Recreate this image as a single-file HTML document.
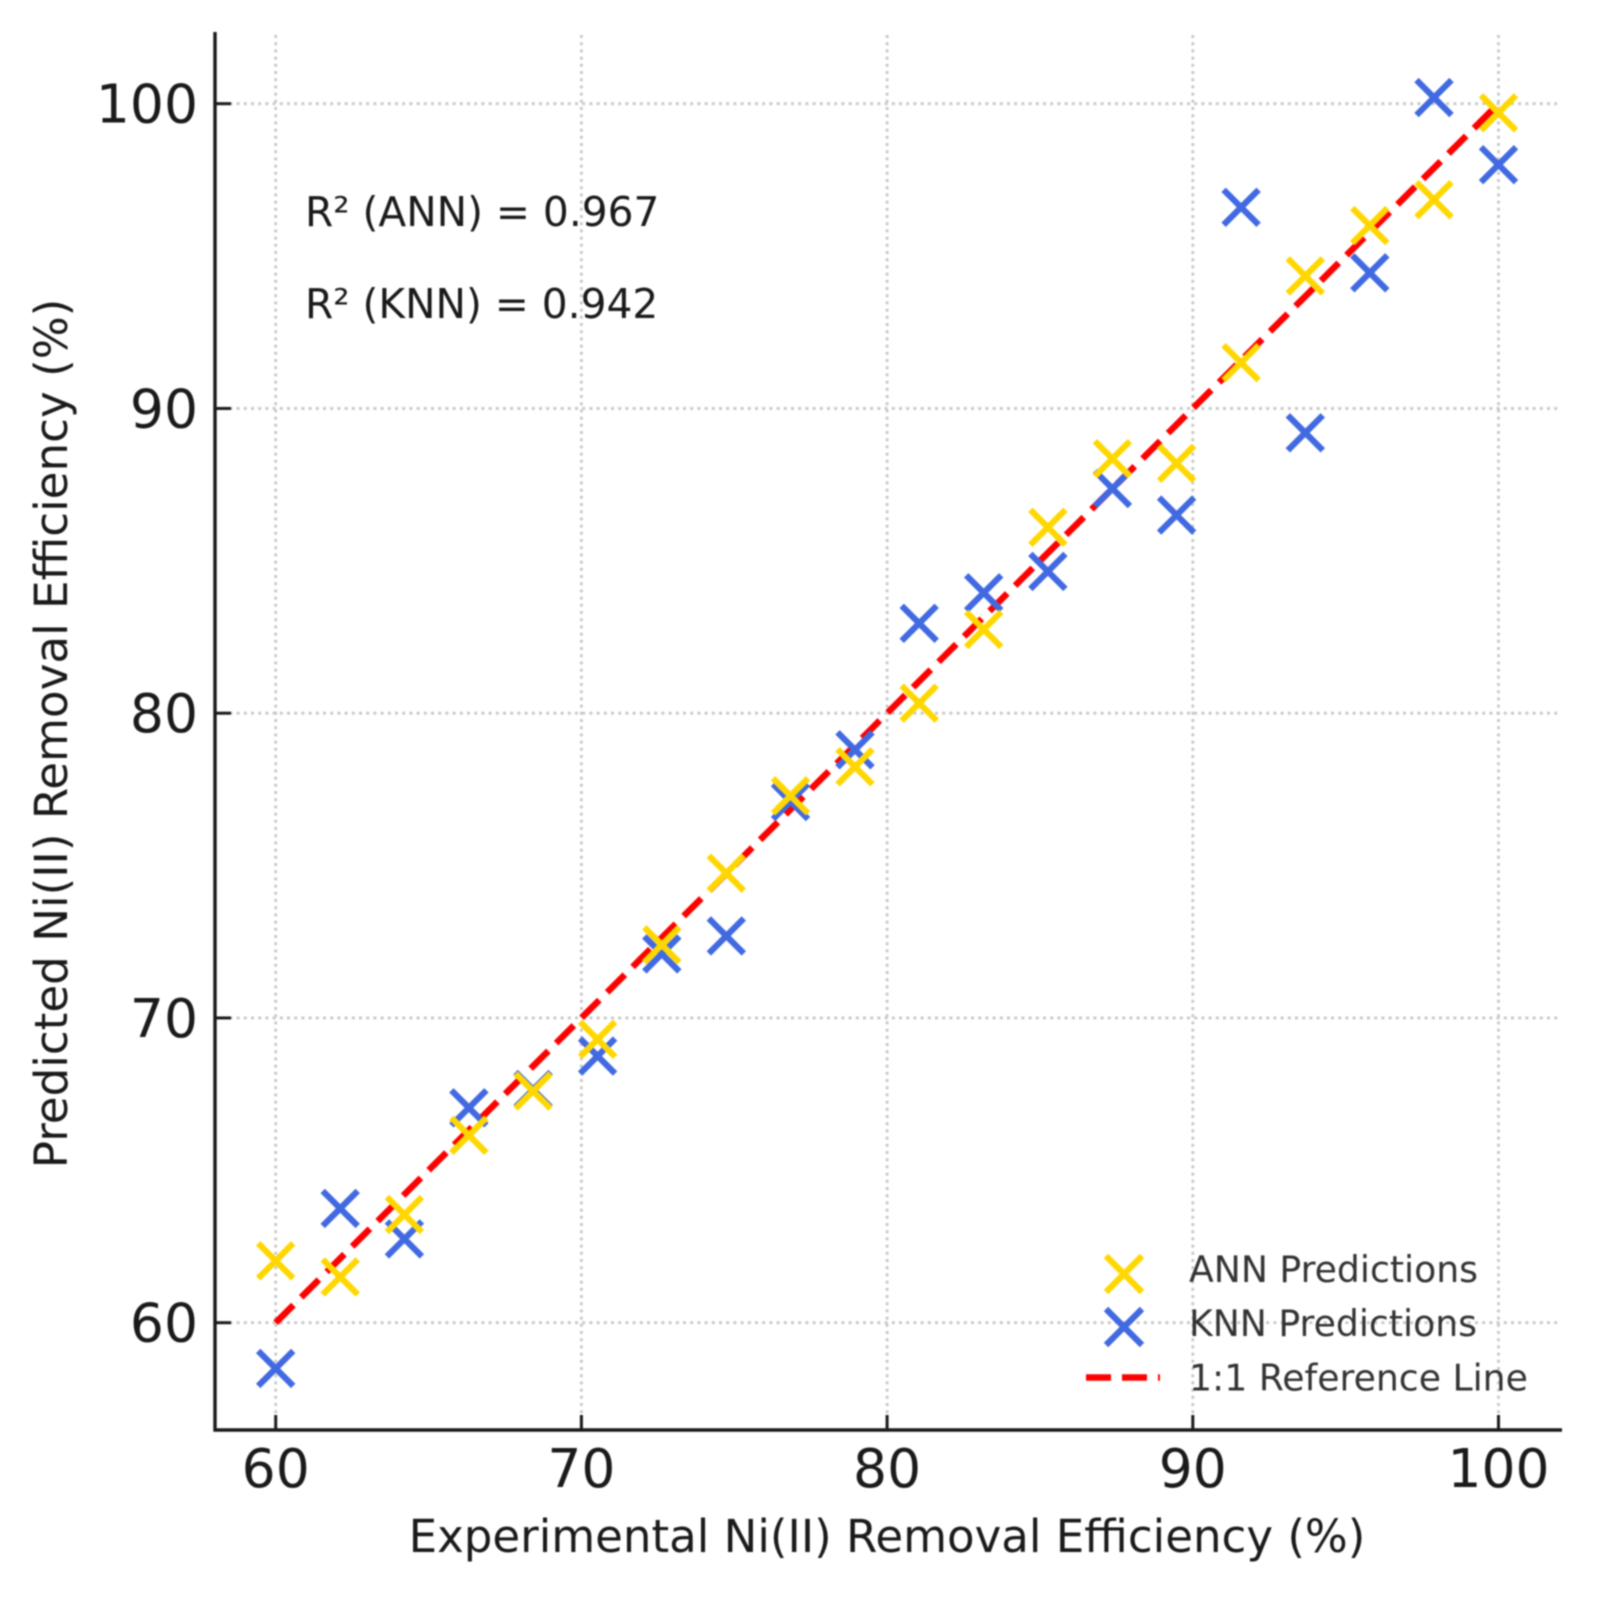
<!DOCTYPE html>
<html>
<head>
<meta charset="utf-8">
<title>Predicted vs Experimental Ni(II) Removal Efficiency</title>
<style>
html,body{margin:0;padding:0;background:#fff;}
svg{display:block;filter:blur(0.7px);}
text{font-family:"DejaVu Sans","Liberation Sans",sans-serif;fill:#1a1a1a;}
</style>
</head>
<body>
<svg id="chart" xmlns="http://www.w3.org/2000/svg" width="1600" height="1597" viewBox="0 0 1600 1597">
  <rect x="0" y="0" width="1600" height="1597" fill="#ffffff"/>
  <g id="grid"></g>
  <g id="refline"></g>
  <g id="knn"></g>
  <g id="ann"></g>
  <g id="axes"></g>
  <text x="887" y="1552" font-size="45.1" text-anchor="middle">Experimental Ni(II) Removal Efficiency (%)</text>
  <text transform="translate(67,733.5) rotate(-90)" font-size="45.2" text-anchor="middle">Predicted Ni(II) Removal Efficiency (%)</text>
  <text x="305" y="226" font-size="40.7">R² (ANN) = 0.967</text>
  <text x="305" y="318" font-size="40.7">R² (KNN) = 0.942</text>
  <g>
    <g stroke="#FFD700" stroke-width="6.2">
      <line x1="1106" y1="1256" x2="1142" y2="1292"/><line x1="1106" y1="1292" x2="1142" y2="1256"/>
    </g>
    <g stroke="#4169E1" stroke-width="6.2">
      <line x1="1106" y1="1309" x2="1142" y2="1345"/><line x1="1106" y1="1345" x2="1142" y2="1309"/>
    </g>
    <line x1="1086" y1="1377.5" x2="1160" y2="1377.5" stroke="#FF0000" stroke-width="6.5" stroke-dasharray="25 11"/>
    <text x="1189" y="1282" font-size="36.2" style="fill:#333">ANN Predictions</text>
    <text x="1189" y="1336" font-size="36.2" style="fill:#333">KNN Predictions</text>
    <text x="1189" y="1390.5" font-size="36.2" style="fill:#333">1:1 Reference Line</text>
  </g>
</svg>
<script>
const experimental = [60, 62.11, 64.21, 66.32, 68.42, 70.53, 72.63, 74.74, 76.84, 78.95, 81.05, 83.16, 85.26, 87.37, 89.47, 91.58, 93.68, 95.79, 97.89, 100];
const annPredicted = [62.03, 61.5, 63.55, 66.15, 67.6, 69.3, 72.4, 74.75, 77.29, 78.24, 80.33, 82.75, 86.1, 88.35, 88.2, 91.5, 94.35, 96.0, 96.85, 99.7];
const knnPredicted = [58.5, 63.75, 62.75, 67.05, 67.65, 68.75, 72.1, 72.69, 77.1, 78.8, 82.95, 83.95, 84.65, 87.37, 86.5, 96.6, 89.2, 94.45, 100.2, 98.0];
const referenceLine = [60, 100];
const xTickValues = [60, 70, 80, 90, 100];
const yTickValues = [60, 70, 80, 90, 100];

const NS = 'http://www.w3.org/2000/svg';
function xScale(v) { return 275.7 + (v - 60) * 30.57; }
function yScale(v) { return 1322.7 - (v - 60) * 30.475; }
function mk(tag, attrs, parent) {
  const el = document.createElementNS(NS, tag);
  for (const k in attrs) el.setAttribute(k, attrs[k]);
  parent.appendChild(el);
  return el;
}

const gridG = document.getElementById('grid');
xTickValues.forEach(function (t) {
  const el = mk('line', { x1: xScale(t), x2: xScale(t), y1: 35, y2: 1430, stroke: '#c8c8c8', 'stroke-width': 2.8, 'stroke-dasharray': '3 4.2' }, gridG);
  
  
});
yTickValues.forEach(function (t) {
  const el = mk('line', { x1: 215, x2: 1560, y1: yScale(t), y2: yScale(t), stroke: '#c8c8c8', 'stroke-width': 2.8, 'stroke-dasharray': '3 4.2' }, gridG);
  
  
});

const lineEl = mk('line', {
  x1: xScale(referenceLine[0]), y1: yScale(referenceLine[0]),
  x2: xScale(referenceLine[1]), y2: yScale(referenceLine[1]),
  stroke: '#FF0000', 'stroke-width': 6.5, 'stroke-dasharray': '25 11'
}, document.getElementById('refline'));



function drawCross(parent, xv, yv, color) {
  const g = mk('g', { stroke: color, 'stroke-width': 6.2 }, parent);
  const cx = xScale(xv), cy = yScale(yv), r = 17.5;
  mk('line', { x1: cx - r, y1: cy - r, x2: cx + r, y2: cy + r }, g);
  mk('line', { x1: cx - r, y1: cy + r, x2: cx + r, y2: cy - r }, g);
  return g;
}
const annG = document.getElementById('ann');
const knnG = document.getElementById('knn');
experimental.forEach(function (xv, i) {
  const k = drawCross(knnG, xv, knnPredicted[i], '#4169E1');
  
  
  const a = drawCross(annG, xv, annPredicted[i], '#FFD700');
  
  
});

const axesG = document.getElementById('axes');
const ySpine = mk('line', { x1: 215, x2: 215, y1: 32, y2: 1431.5, stroke: '#1a1a1a', 'stroke-width': 3.4 }, axesG);


const xSpine = mk('line', { x1: 213.5, x2: 1562, y1: 1430, y2: 1430, stroke: '#1a1a1a', 'stroke-width': 3.4 }, axesG);



xTickValues.forEach(function (t) {
  const tick = mk('line', { x1: xScale(t), x2: xScale(t), y1: 1415, y2: 1430, stroke: '#1a1a1a', 'stroke-width': 3 }, axesG);
  
  
  const label = mk('text', { x: xScale(t), y: 1487, 'font-size': 53.5, 'text-anchor': 'middle' }, axesG);
  label.textContent = String(t);
  
  
});
yTickValues.forEach(function (t) {
  const tick = mk('line', { x1: 215, x2: 231, y1: yScale(t), y2: yScale(t), stroke: '#1a1a1a', 'stroke-width': 3 }, axesG);
  
  
  const label = mk('text', { x: 198, y: yScale(t) + 19, 'font-size': 53.5, 'text-anchor': 'end' }, axesG);
  label.textContent = String(t);
  
  
});
</script>
</body>
</html>
